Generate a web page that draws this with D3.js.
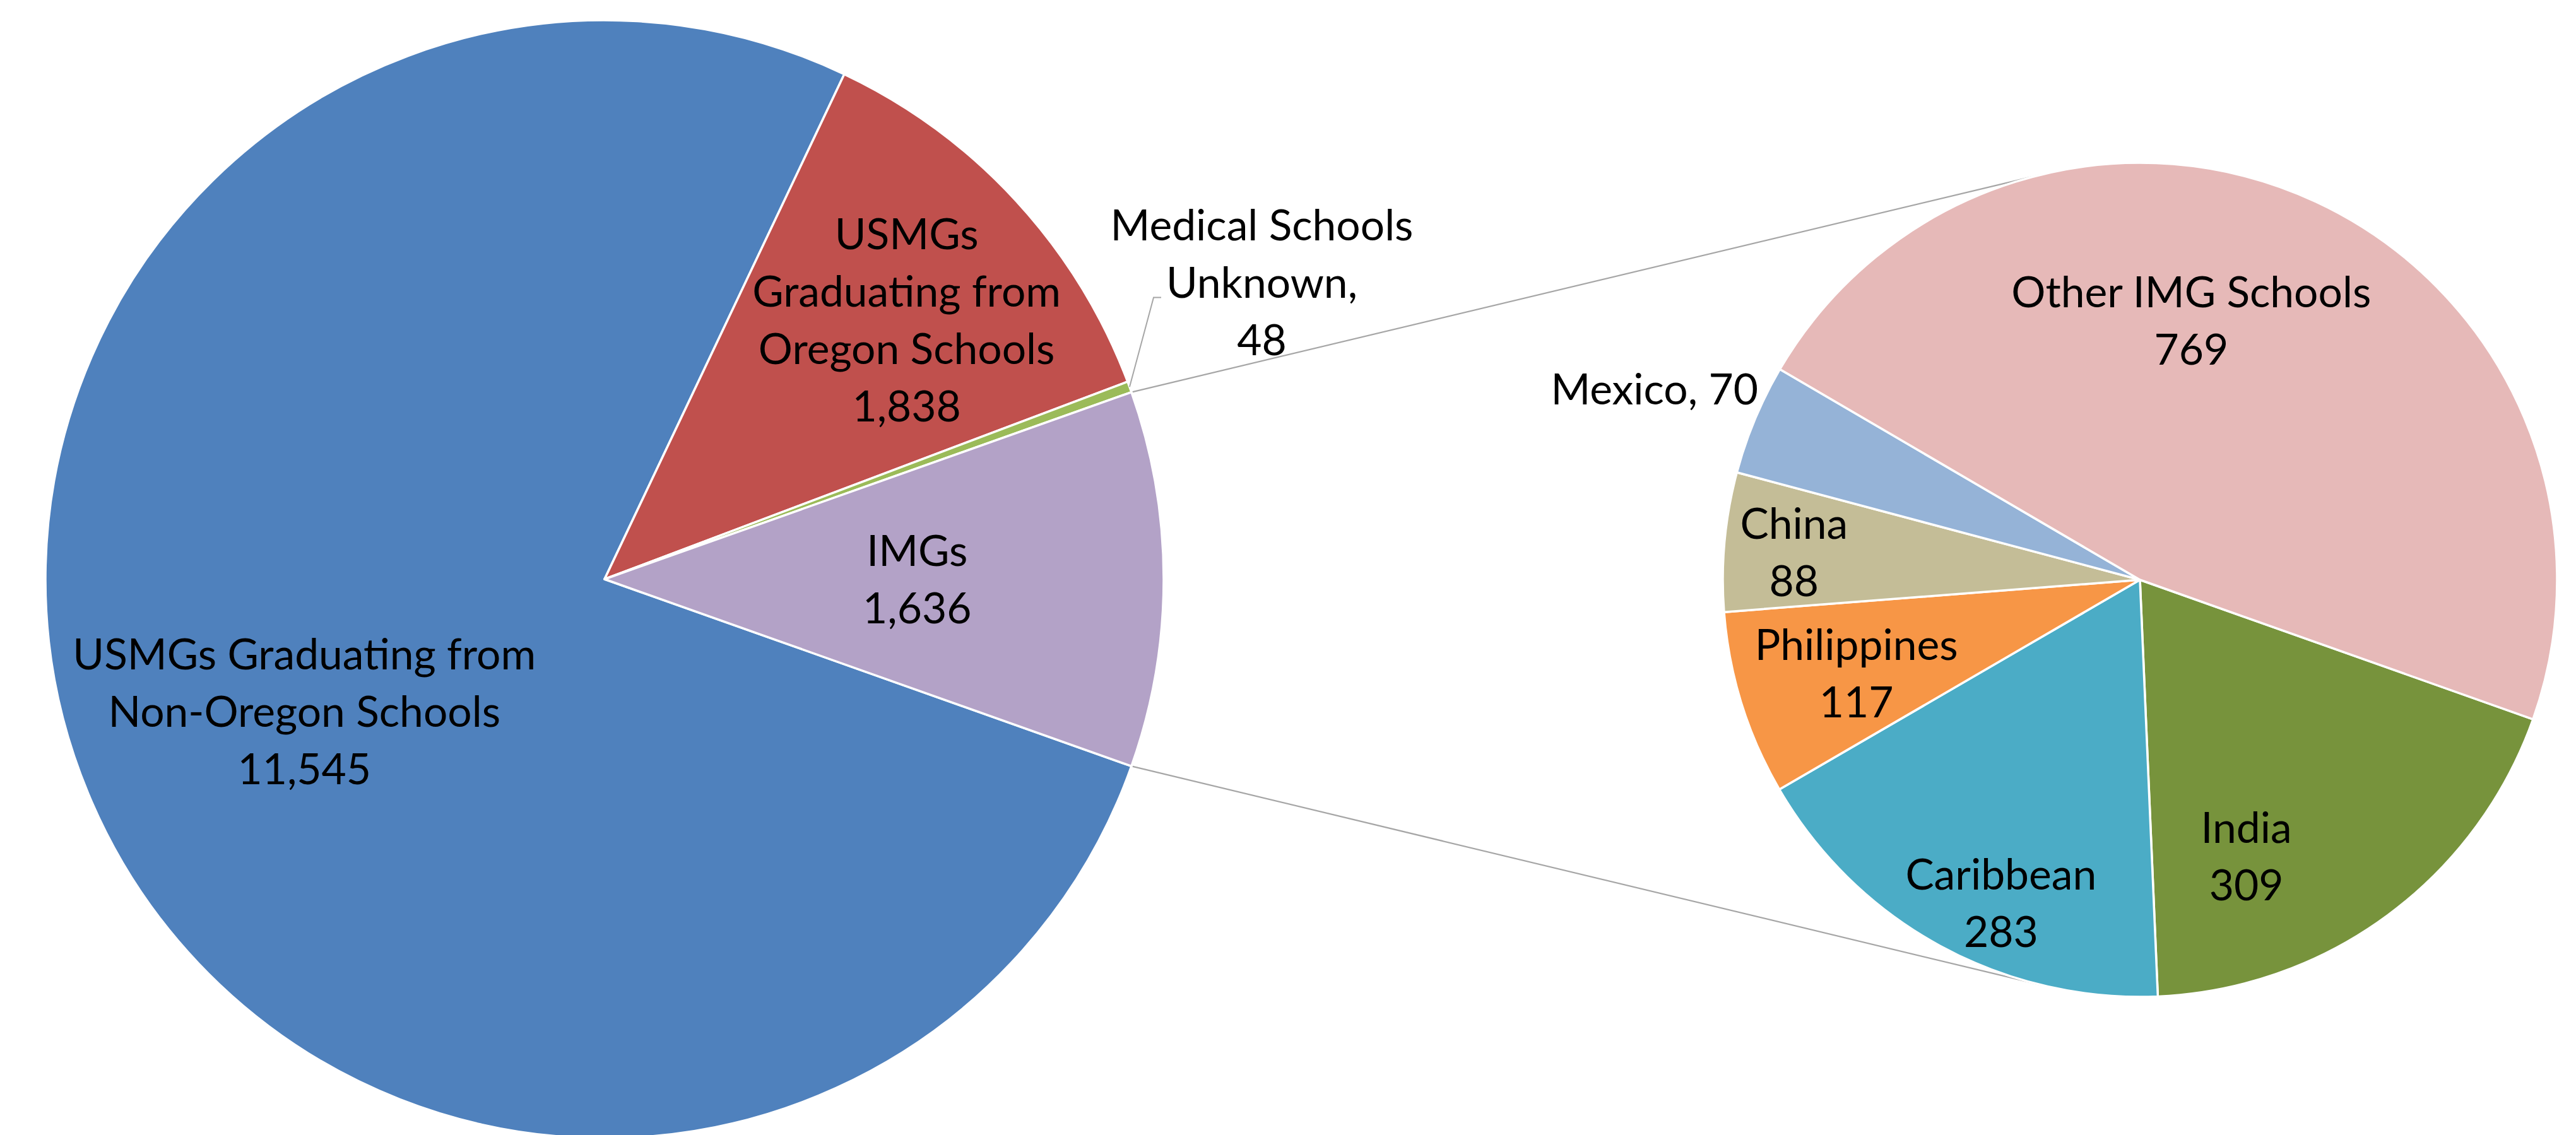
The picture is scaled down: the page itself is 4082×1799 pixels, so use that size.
<!DOCTYPE html>
<html><head><meta charset="utf-8">
<script src="https://cdn.jsdelivr.net/npm/d3@7"></script>
<style>html,body{margin:0;padding:0;background:#fff;overflow:hidden}svg{display:block}</style>
</head><body>
<script>
// ---- data ----
const primaryCategories = ["USMGs Graduating from Non-Oregon Schools", "USMGs Graduating from Oregon Schools", "Medical Schools Unknown", "IMGs"];
const primaryValues = [11545, 1838, 48, 1636];
const primaryLabelLines = [["USMGs Graduating from", "Non-Oregon Schools"], ["USMGs", "Graduating from", "Oregon Schools"], ["Medical Schools", "Unknown,"], ["IMGs"]];
const secondaryCategories = ["India", "Caribbean", "Philippines", "China", "Mexico", "Other IMG Schools"];
const secondaryValues = [309, 283, 117, 88, 70, 769];
const secondaryLabelLines = [["India"], ["Caribbean"], ["Philippines"], ["China"], ["Mexico,"], ["Other IMG Schools"]];
const splitIndex = 3; // the IMGs slice is broken out into the second pie

// ---- styles / layout ----
const primaryColors = ["#4F81BD", "#C0504D", "#9BBB59", "#B3A2C7"];
const secondaryColors = ["#77933C", "#4BACC6", "#F79646", "#C4BD97", "#95B3D7", "#E6B9B8"];
// label placement: [angle nudge (deg) from slice mid-angle, radius fraction, inline value?]
const primaryLabelPos = [[-1.3, 0.587, false], [2.0, 0.712, false], [-4.2, 1.29, false], [0, 0.559, false]];
const secondaryLabelPos = [[15.4, 0.71, false], [-5.4, 0.843, false], [-1.0, 0.716, false], [-0.7, 0.832, false], [3.9, 1.023, true], [-13.75, 0.634, false]];

const W = 4082, H = 1799;
const pC = [958, 918], pR = 886;
const sC = [3391, 919], sR = 661;
const LH = 91;
const fmt = d3.format(",");

const svg = d3.select("body").append("svg").attr("width", W).attr("height", H);

// font sizing to match reference text width
const FONT = "Lato, 'Open Sans', sans-serif";
const probe = svg.append("text").attr("font-family", FONT).attr("font-size", 100).text("USMGs Graduating from");
const pw = probe.node().getComputedTextLength();
probe.remove();
const FS = 100 * 734 / pw;
const CAP = 0.7165 * FS;

const primaryTotal = d3.sum(primaryValues);
const splitAngle = 2 * Math.PI * primaryValues[splitIndex] / primaryTotal;
const start = Math.PI / 2 + splitAngle / 2;

const pPie = d3.pie().sort(null).value(d => d).startAngle(start).endAngle(start + 2 * Math.PI);
const sPie = d3.pie().sort(null).value(d => d).startAngle(start).endAngle(start + 2 * Math.PI);
const pArcs = pPie(primaryValues);
const sArcs = sPie(secondaryValues);

const polar = (c, r, a) => [c[0] + r * Math.sin(a), c[1] - r * Math.cos(a)];

// connector lines (tangent from split edges to secondary pie)
const split = pArcs[splitIndex];
function tangentPoint(P, C, R, upper) {
  const dx = C[0] - P[0], dy = C[1] - P[1];
  const d = Math.hypot(dx, dy);
  const th = Math.atan2(dy, dx);
  const al = Math.asin(R / d);
  const L = Math.sqrt(d * d - R * R);
  const t = upper ? th - al : th + al;
  return [P[0] + L * Math.cos(t), P[1] + L * Math.sin(t)];
}
const pTop = polar(pC, pR, split.startAngle - 2 * Math.PI);
const pBot = polar(pC, pR, split.endAngle - 2 * Math.PI);
const conn = svg.append("g").attr("stroke", "#A6A6A6").attr("stroke-width", 2.2).attr("fill", "none");
conn.append("line").attr("x1", pTop[0]).attr("y1", pTop[1])
  .attr("x2", tangentPoint(pTop, sC, sR, true)[0]).attr("y2", tangentPoint(pTop, sC, sR, true)[1]);
conn.append("line").attr("x1", pBot[0]).attr("y1", pBot[1])
  .attr("x2", tangentPoint(pBot, sC, sR, false)[0]).attr("y2", tangentPoint(pBot, sC, sR, false)[1]);

function drawPie(arcs, center, R, colors) {
  const arc = d3.arc().innerRadius(0).outerRadius(R);
  svg.append("g").attr("transform", `translate(${center[0]},${center[1]})`)
    .selectAll("path").data(arcs).join("path")
    .attr("d", arc).attr("fill", (d, i) => colors[i])
    .attr("stroke", "#fff").attr("stroke-width", 3.5).attr("stroke-linejoin", "round");
}
drawPie(pArcs, pC, pR, primaryColors);
drawPie(sArcs, sC, sR, secondaryColors);

function drawLabels(arcs, center, R, linesArr, posArr, values) {
  const g = svg.append("g").attr("font-family", FONT).attr("font-size", FS).attr("fill", "#000");
  const out = [];
  arcs.forEach((a, i) => {
    const [dA, rf, inline] = posArr[i];
    const mid = (a.startAngle + a.endAngle) / 2 + dA * Math.PI / 180;
    const [cx, cy] = polar(center, R * rf, mid);
    if (inline) {
      g.append("text").attr("x", cx).attr("y", cy + CAP / 2).attr("text-anchor", "end")
        .text(linesArr[i].join(" ") + " " + fmt(values[i]));
      return;
    }
    const lines = linesArr[i].concat([fmt(values[i])]);
    const y0 = cy - (lines.length - 1) * LH / 2 + CAP / 2;
    const t = g.append("text").attr("text-anchor", "middle");
    const spans = lines.map((s, k) => t.append("tspan").attr("x", cx).attr("y", y0 + k * LH).text(s));
    out[i] = {cx, y0, spans};
  });
  return out;
}
const pl = drawLabels(pArcs, pC, pR, primaryLabelLines, primaryLabelPos, primaryValues);
drawLabels(sArcs, sC, sR, secondaryLabelLines, secondaryLabelPos, secondaryValues);

// leader line for the tiny "Medical Schools Unknown" slice
const gi = 2;
const ga = pArcs[gi];
const gStart = polar(pC, pR, (ga.startAngle + ga.endAngle) / 2);
const L2 = pl[gi];
const w2 = L2.spans[1].node().getComputedTextLength();
const endX = L2.cx - w2 / 2 - 8, endY = L2.y0 + LH;
svg.append("path").attr("fill", "none").attr("stroke", "#A6A6A6").attr("stroke-width", 2)
  .attr("d", d3.line()([gStart, [endX - 12, endY], [endX, endY]]));
</script>
</body></html>
